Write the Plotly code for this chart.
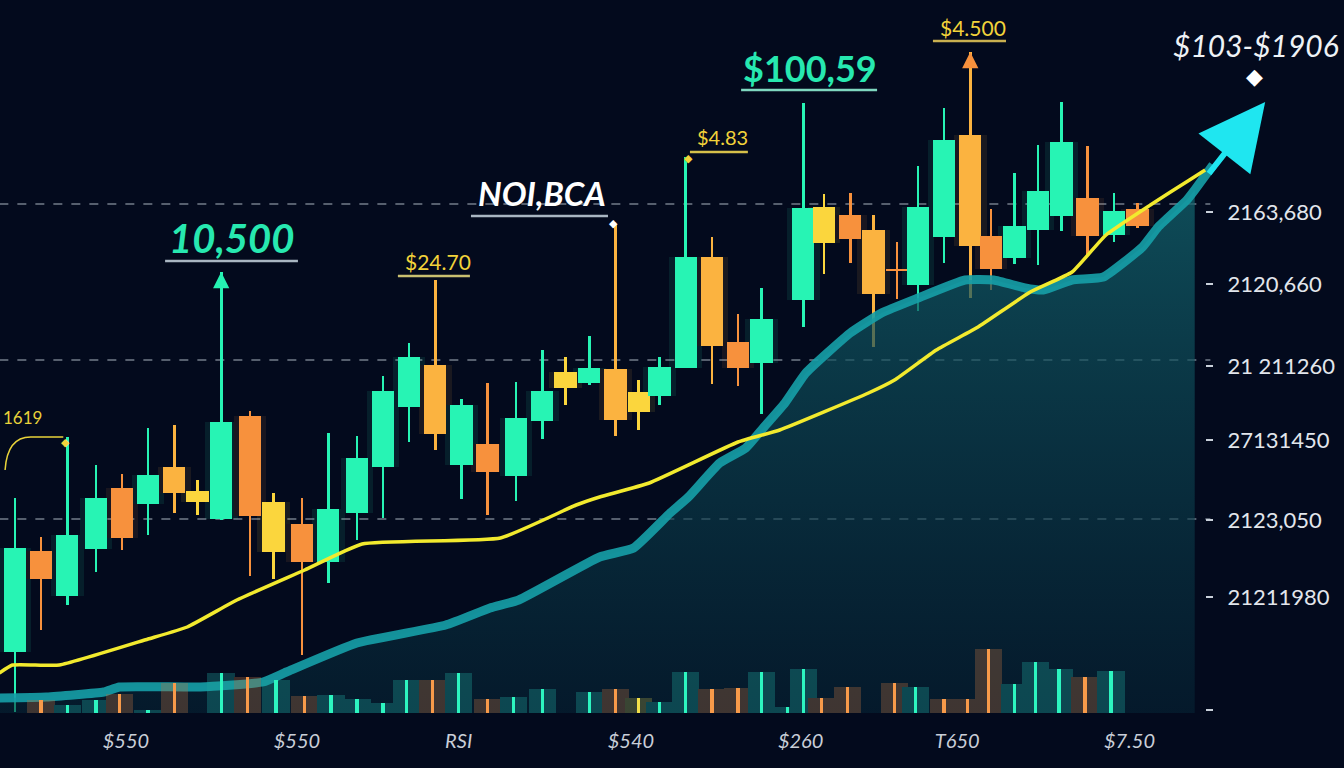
import plotly.graph_objects as go

# candles: trading day position and OHLC (price units on the chart's scale)
day = [0.0, 1.0, 2.0, 3.1, 4.1, 5.1, 6.1, 7.0, 7.9, 9.0,
       9.9, 11.0, 12.0, 13.1, 14.1, 15.1, 16.1, 17.1, 18.1, 19.2,
       20.2, 21.1, 22.0, 23.0, 23.9, 24.7, 25.7, 26.7, 27.7, 28.6,
       30.2, 31.0, 32.0, 32.9, 33.8, 34.6, 35.6, 36.6, 37.4, 38.3,
       39.2, 40.1, 41.1, 42.1, 43.0]
open_ = [61, 162, 117, 164, 225, 209, 246, 222, 194, 297,
         211, 189, 151, 200, 246, 306, 348, 248, 269, 237,
         292, 341, 330, 344, 321, 317, 345, 456, 371, 350,
         413, 506, 498, 483, 444, 428, 476, 578, 477, 455,
         483, 497, 515, 478, 504]
close = [165, 134, 178, 215, 175, 238, 220, 211, 291, 197,
         161, 151, 204, 255, 322, 356, 279, 308, 241, 295,
         322, 325, 345, 293, 301, 346, 456, 367, 345, 394,
         505, 470, 474, 419, 442, 506, 573, 467, 444, 487,
         522, 571, 477, 502, 487]
high = [215, 176, 276, 248, 239, 285, 288, 233, 441, 302,
        220, 215, 280, 277, 337, 370, 433, 314, 330, 331,
        363, 356, 377, 488, 333, 356, 556, 476, 399, 425,
        610, 519, 520, 498, 471, 547, 605, 661, 504, 540,
        568, 611, 567, 520, 510]
low = [1, 83, 108, 141, 163, 178, 200, 198, 193, 137,
       134, 58, 130, 173, 195, 271, 263, 214, 198, 212,
       274, 308, 328, 277, 283, 308, 345, 329, 327, 299,
       386, 439, 450, 366, 414, 402, 450, 415, 423, 449,
       448, 482, 458, 471, 485]
shade = list("GOGGOGAYGO" "YOGGGGAGOG" "GYGAYGGAOG" "GYOAOGGAOG" "GGOGO")

# volume
vol_day = [1.0, 2.0, 3.1, 4.0, 5.1, 6.1, 7.9, 8.9, 10.0, 11.1,
           12.1, 13.1, 14.1, 15.0, 16.0, 17.0, 18.1, 19.1, 20.2, 22.0,
           23.0, 23.9, 24.7, 25.7, 26.7, 27.7, 28.6, 29.6, 30.2, 30.9,
           31.9, 33.7, 34.5, 35.6, 36.5, 37.3, 38.3, 39.1, 40.0, 41.0,
           42.0]
vol = [13, 8, 13, 19, 3, 30, 40, 36, 33, 17,
       18, 14, 10, 33, 33, 40, 14, 16, 24, 21,
       24, 15, 11, 41, 24, 25, 41, 6, 44, 15,
       26, 30, 26, 14, 14, 64, 29, 51, 44, 36,
       42]
vol_side = list("OGGOGOGOGO" "GGGGOGOGGG" "OYGGOOGGGO" "OOGOOOGGGO" "G")

# trend lines
teal_day = [-0.6, 1.2, 3.4, 4.0, 7.1, 9.5, 10.4, 13.1, 16.5, 18.2,
            19.3, 22.4, 23.7, 25.1, 25.8, 27.0, 28.0, 28.7, 29.5, 30.3,
            32.0, 33.2, 34.6, 36.4, 37.5, 38.7, 39.4, 40.5, 41.7, 43.2,
            43.8, 44.9, 45.2]
teal_val = [15, 16, 21, 26, 26, 31, 41, 70, 88, 105,
            113, 156, 165, 200, 216, 250, 265, 286, 310, 340,
            380, 400, 415, 433, 433, 425, 423, 433, 436, 466,
            486, 513, 523]
yel_day = [-0.6, -0.1, 1.7, 5.1, 6.6, 8.5, 11.1, 13.3, 18.6, 21.5,
           22.4, 24.3, 27.7, 29.3, 32.7, 33.7, 35.3, 36.9, 38.9, 40.5,
           41.8, 43.5, 45.0, 45.6]
yel_val = [40, 48, 48, 74, 86, 113, 143, 169, 175, 208,
           216, 230, 271, 283, 320, 333, 363, 386, 421, 441,
           478, 508, 533, 543]

# axes labels
x_tick_pos = [4.25, 10.8, 17.0, 23.6, 30.1, 36.1, 42.7]
x_tick_text = ["$550", "$550", "RSI", "$540", "$260", "T650", "$7.50"]
y_tick_pos = [501, 429, 347, 273, 193, 116, 3]
y_tick_text = ["2163,680", "2120,660", "21 211260", "27131450", "2123,050", "21211980", ""]
grid_levels = [509, 353, 194]

COL = {"G": "#27f4b4", "O": "#f7913d", "A": "#fbb340", "Y": "#fbd63d"}
VOL_COL = {"G": "#1fa79f", "O": "#b8703f", "Y": "#a8a042"}
LINE_COL = {"G": "#2df5c0", "O": "#f79a4a", "Y": "#f2e04a"}

body_base = [min(o, c) for o, c in zip(open_, close)]
body_h = [max(abs(c - o), 2) for o, c in zip(open_, close)]
candle_col = [COL[s] for s in shade]

fig = go.Figure()

# area under teal line
fig.add_trace(go.Scatter(
    x=teal_day, y=teal_val, mode="lines", line=dict(width=0),
    fill="tozeroy",
    fillgradient=dict(type="vertical",
                      colorscale=[[0, "rgba(6,38,55,0.55)"], [1, "rgba(18,98,108,0.75)"]]),
    hoverinfo="skip"))

# volume
fig.add_trace(go.Bar(x=vol_day, y=vol, width=1.05, yaxis="y2",
                     marker=dict(color=[VOL_COL[s] for s in vol_side], line=dict(width=0)),
                     opacity=0.32))
fig.add_trace(go.Bar(x=vol_day, y=vol, width=0.13, yaxis="y2",
                     marker=dict(color=[LINE_COL[s] for s in vol_side], line=dict(width=0))))

# teal moving line
fig.add_trace(go.Scatter(x=teal_day + [45.9], y=teal_val + [548], mode="lines",
                         line=dict(color="rgba(22,160,168,0.9)", width=9, shape="spline",
                                   smoothing=0.4)))

# candles: glow, wicks, bodies
fig.add_trace(go.Bar(x=day, y=body_h, base=body_base, width=1.25,
                     marker=dict(color=candle_col, line=dict(width=0)), opacity=0.09))
fig.add_trace(go.Bar(x=day, y=[h - l for h, l in zip(high, low)], base=low, width=0.1,
                     marker=dict(color=candle_col, line=dict(width=0))))
fig.add_trace(go.Bar(x=day, y=body_h, base=body_base, width=0.86,
                     marker=dict(color=candle_col, line=dict(width=0))))

# yellow line
fig.add_trace(go.Scatter(x=yel_day, y=yel_val, mode="lines",
                         line=dict(color="#f2ea2e", width=3.5, shape="spline", smoothing=0.4)))

for g in grid_levels:
    fig.add_shape(type="line", xref="x", yref="y", x0=-0.6, x1=45.8, y0=g, y1=g,
                  line=dict(color="rgba(190,200,212,0.6)", width=1.5, dash="dash"), layer="below")

# callout underlines
underlines = [(5.75, 10.84, 452), (14.67, 17.43, 437), (17.47, 22.72, 497),
              (25.86, 28.08, 561), (27.82, 33.03, 623), (35.17, 37.97, 672)]
ucol = ["#a9b6c2", "#c9c070", "#a9b6c2", "#d6c04a", "#7fd8c0", "#c9b050"]
for (a, b, yv), c in zip(underlines, ucol):
    fig.add_shape(type="line", xref="x", yref="y", x0=a, x1=b, y0=yv, y1=yv,
                  line=dict(color=c, width=2.5))

fig.add_shape(type="path", xref="x", yref="y",
              path="M -0.38,243 Q -0.3,276 0.6,276 L 1.85,276",
              line=dict(color="#e8d23a", width=1.5))

def note(text, x, y, color, size, bold=False, italic=False, family="Lato"):
    t = f"<b>{text}</b>" if bold else text
    fig.add_annotation(x=x, y=y, xref="x", yref="y", text=t, showarrow=False,
                       font=dict(family=family, size=size, color=color,
                                 style="italic" if italic else "normal"))

note("10,500", 8.31, 475, "#27e8b0", 40, bold=True, italic=True)
note("$24.70", 16.2, 452, "#f2d33a", 21)
note("NOI,BCA", 20.2, 520, "#ffffff", 33, bold=True, italic=True)
note("$4.83", 27.1, 576, "#f2d33a", 20)
note("$100,59", 30.46, 645, "#27e8b0", 36, bold=True)
note("$4.500", 36.7, 686, "#f2d33a", 21)
note("$103-$1906", 47.55, 668, "#eef2f6", 30, italic=True)
note("◆", 47.5, 637, "#ffffff", 22, family="DejaVu Sans")
note("1619", 0.3, 296, "#e8d23a", 17)
note("◆", 22.95, 491, "#ffffff", 11)
note("◆", 25.8, 556, "#f2d33a", 11)
note("◆", 1.95, 272, "#f2d33a", 11)

# small heads on the tall wicks
fig.add_annotation(x=7.9, y=441, xref="x", yref="y", ax=0, ay=16, text="", showarrow=True,
                   arrowhead=2, arrowsize=1.3, arrowwidth=2.5, arrowcolor="#25f2b2")
fig.add_annotation(x=36.6, y=661, xref="x", yref="y", ax=0, ay=16, text="", showarrow=True,
                   arrowhead=2, arrowsize=1.3, arrowwidth=2.5, arrowcolor="#f7913d")

# trend arrow
fig.add_annotation(x=47.9, y=611, xref="x", yref="y", ax=45.7, ay=538, axref="x", ayref="y",
                   text="", showarrow=True, arrowhead=2, arrowsize=2.2, arrowwidth=6,
                   arrowcolor="#1fe6f0")

fig.update_layout(
    width=1344, height=768,
    margin=dict(l=0, r=0, t=0, b=55),
    paper_bgcolor="#030a1d", plot_bgcolor="rgba(0,0,0,0)",
    showlegend=False, barmode="overlay", bargap=0,
    xaxis=dict(range=[-0.575, 50.92], domain=[0, 1], showgrid=False, zeroline=False,
               showline=False, tickvals=x_tick_pos, ticktext=x_tick_text, ticks="",
               tickfont=dict(family="Lato", size=20, color="#c9ced8", style="italic"),
               ticklabelstandoff=14),
    yaxis=dict(range=[0, 713], anchor="free", position=0.8966, side="right",
               showgrid=False, zeroline=False, showline=False,
               tickvals=y_tick_pos, ticktext=y_tick_text, ticks="outside", ticklen=7,
               tickwidth=1.5, tickcolor="#c9d0da", ticklabelstandoff=10,
               tickfont=dict(family="Lato", size=22, color="#e2e6ec")),
    yaxis2=dict(range=[0, 713], overlaying="y", visible=False),
)

fig.write_html("out.html", config={"displayModeBar": False},
               post_script="document.body.style.margin='0';")
